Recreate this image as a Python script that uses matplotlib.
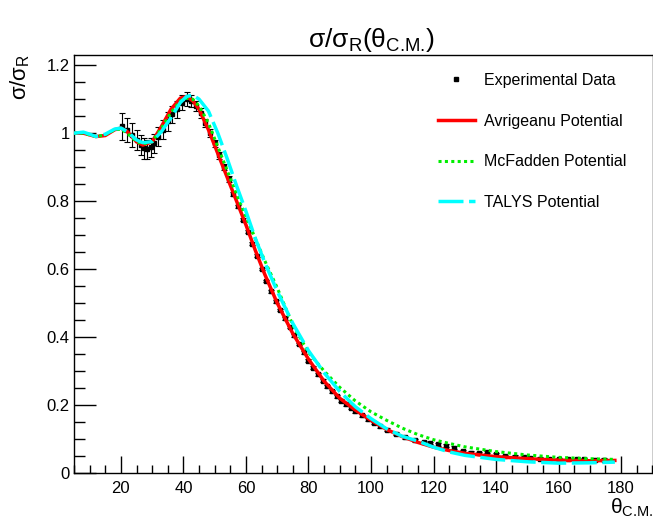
import numpy as np
import matplotlib
matplotlib.use("Agg")
import matplotlib.pyplot as plt
from matplotlib.ticker import MultipleLocator
from matplotlib.lines import Line2D

plt.rcParams['font.family'] = ['Liberation Sans', 'DejaVu Sans']
plt.rcParams['mathtext.fontset'] = 'custom'
plt.rcParams['mathtext.rm'] = 'Liberation Sans'
plt.rcParams['mathtext.default'] = 'regular'
plt.rcParams['lines.scale_dashes'] = False

# datos experimentales (angulo C.M., sigma/sigma_R, error)
theta_exp = [20.5, 22, 23.5, 25, 26.5, 27.5, 28.5, 29.5, 30.5, 32, 33.5, 35, 36.5, 38,
             39.5, 41, 42.5, 44, 45.5, 47, 48.5, 50, 51.5, 53, 54.5, 56, 57.5, 59,
             60.5, 62, 63.5, 65, 66.5, 68, 69.5, 71, 72.5, 74, 75.5, 77, 78.5, 80,
             81.5, 83, 84.5, 86, 87.5, 89, 90.5, 92, 93.5, 95, 97, 99, 101, 103, 105,
             108, 111, 114, 117, 119, 121.5, 124, 126.5, 129.5, 132, 134.5, 137, 140,
             143, 146, 149, 151, 154, 157, 160, 163, 166, 168, 171.5, 174.5]
sig_exp = [1.02, 1.01, 0.995, 0.98, 0.965, 0.955, 0.952, 0.958, 0.97, 0.99, 1.01, 1.035,
           1.055, 1.07, 1.09, 1.10, 1.095, 1.08, 1.06, 1.03, 1.0, 0.97, 0.935, 0.90,
           0.865, 0.82, 0.785, 0.745, 0.71, 0.675, 0.64, 0.6, 0.565, 0.535, 0.505, 0.48,
           0.455, 0.43, 0.405, 0.38, 0.355, 0.33, 0.31, 0.29, 0.272, 0.255, 0.24, 0.226,
           0.213, 0.202, 0.192, 0.182, 0.17, 0.158, 0.147, 0.137, 0.128, 0.116, 0.105,
           0.096, 0.09, 0.088, 0.084, 0.08, 0.074, 0.064, 0.06, 0.058, 0.062, 0.055,
           0.05, 0.048, 0.046, 0.044, 0.042, 0.04, 0.04, 0.04, 0.04, 0.04, 0.039, 0.039]
err_exp = [0.04, 0.035, 0.035, 0.03, 0.03, 0.03, 0.028, 0.028, 0.028, 0.028, 0.028,
           0.028, 0.025, 0.025, 0.022, 0.02, 0.018, 0.015, 0.015, 0.012, 0.012, 0.01,
           0.01, 0.008, 0.008, 0.006] + [0.004] * 56

# curvas de los potenciales
theta_th = [5, 8, 10, 12, 15, 18, 20, 22, 25, 27, 30, 33, 36, 39, 41, 43, 45, 48, 51,
            54, 57, 60, 63, 66, 70, 75, 80, 85, 90, 95, 100, 105, 110, 115, 120, 125,
            130, 140, 150, 160, 170, 178]
avrig = [1.0, 1.0, 0.995, 0.99, 0.993, 1.01, 1.015, 1.005, 0.975, 0.965, 0.975, 1.02,
         1.07, 1.103, 1.108, 1.095, 1.07, 1.01, 0.94, 0.87, 0.80, 0.73, 0.655, 0.585,
         0.5, 0.41, 0.335, 0.27, 0.22, 0.185, 0.155, 0.128, 0.107, 0.09, 0.076, 0.066,
         0.058, 0.048, 0.042, 0.038, 0.036, 0.037]
mcfad = [1.0, 1.0, 0.995, 0.99, 0.995, 1.01, 1.012, 1.0, 0.975, 0.968, 0.975, 1.015,
         1.06, 1.095, 1.103, 1.1, 1.08, 1.03, 0.96, 0.89, 0.82, 0.755, 0.69, 0.625,
         0.545, 0.435, 0.355, 0.3, 0.252, 0.212, 0.18, 0.155, 0.132, 0.113, 0.098,
         0.087, 0.077, 0.063, 0.053, 0.046, 0.042, 0.04]
talys = [1.0, 1.003, 0.997, 0.99, 0.997, 1.012, 1.015, 1.005, 0.98, 0.972, 0.975, 1.005,
         1.045, 1.09, 1.108, 1.112, 1.1, 1.065, 1.0, 0.925, 0.845, 0.77, 0.69, 0.62,
         0.535, 0.44, 0.36, 0.295, 0.24, 0.195, 0.16, 0.13, 0.108, 0.094, 0.076, 0.062,
         0.052, 0.04, 0.033, 0.029, 0.03, 0.032]

fig = plt.figure(figsize=(6.53, 5.22), dpi=100)
ax = fig.add_axes([74 / 653, 49 / 522, 1 - 74 / 653, 418 / 522])

l_av, = ax.plot(theta_th, avrig, color='#ff0000', lw=2.5, zorder=3)
l_mc, = ax.plot(theta_th, mcfad, color='#00ee00', lw=2.2, dashes=(2.2, 2.4), zorder=4)
l_ta, = ax.plot(theta_th, talys, color='#00ffff', lw=2.5, dashes=(18, 4), zorder=5)
ax.errorbar(theta_exp, sig_exp, yerr=err_exp, fmt='s', ms=2.5, color='black',
            ecolor='black', elinewidth=0.8, capsize=2, capthick=0.8, zorder=2)

ax.set_xlim(5, 190.2)
ax.set_ylim(0, 1.23)
ax.xaxis.set_minor_locator(MultipleLocator(5))
ax.yaxis.set_minor_locator(MultipleLocator(0.05))
ax.set_yticks([0, 0.2, 0.4, 0.6, 0.8, 1.0, 1.2])
ax.set_yticklabels(['0', '0.2', '0.4', '0.6', '0.8', '1', '1.2'])
ax.set_xticks([20, 40, 60, 80, 100, 120, 140, 160, 180])
ax.tick_params(which='both', direction='in', top=False, right=False, labelsize=12)
ax.tick_params(axis='x', which='major', length=12, width=1, pad=6)
ax.tick_params(axis='x', which='minor', length=6, width=1)
ax.tick_params(axis='y', which='major', length=16, width=1, pad=3)
ax.tick_params(axis='y', which='minor', length=8, width=1)
for s in ax.spines.values():
    s.set_linewidth(1)

fig.text(371 / 653, 1 - 40 / 522, r'$\sigma/\sigma_R(\theta_{\text{C.M.}})$',
         ha='center', va='center', fontsize=19)
fig.text(20 / 653, 1 - 54 / 522, r'$\sigma/\sigma_R$', rotation=90, ha='center',
         va='top', fontsize=16)
fig.text(1.0, 1 - 508 / 522, r'$\theta_{\text{C.M.}}$', ha='right', va='center',
         fontsize=15)

h_exp = Line2D([], [], ls='none', marker='s', ms=2.5, color='black')
ax.legend([h_exp, l_av, l_mc, l_ta],
          ['Experimental Data', 'Avrigeanu Potential', 'McFadden Potential',
           'TALYS Potential'], loc='upper left',
          bbox_to_anchor=(438 / 653, 1 - 73 / 522), bbox_transform=fig.transFigure,
          frameon=False, fontsize=11.5, labelspacing=1.6, handlelength=2.3,
          handletextpad=0.56, borderpad=0, borderaxespad=0)

fig.savefig('out.png', dpi=100)
